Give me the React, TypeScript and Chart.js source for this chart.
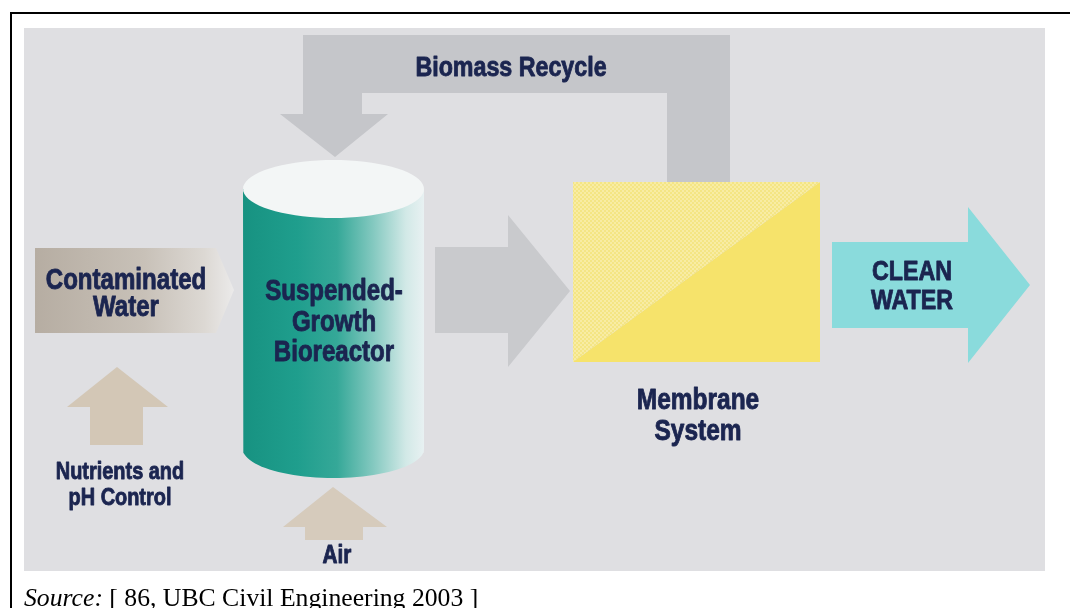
import { useEffect, useRef } from "react";
import { Chart, registerables } from "chart.js";

Chart.register(...registerables);

type P = { x: number; y: number };

// Diagram space is the 1070 x 608 picture, y growing downward.
const backdrop: P[] = [
  { x: 24, y: 28 }, { x: 1045, y: 28 }, { x: 1045, y: 571 }, { x: 24, y: 571 },
];
const recycleArrow: P[] = [
  { x: 303, y: 35 }, { x: 730, y: 35 }, { x: 730, y: 184 }, { x: 667, y: 184 },
  { x: 667, y: 93 }, { x: 362, y: 93 }, { x: 362, y: 114 }, { x: 388, y: 114 },
  { x: 335, y: 157 }, { x: 280, y: 114 }, { x: 303, y: 114 },
];
const feedArrow: P[] = [
  { x: 435, y: 247 }, { x: 508, y: 247 }, { x: 508, y: 215 }, { x: 570, y: 291 },
  { x: 508, y: 367 }, { x: 508, y: 333 }, { x: 435, y: 333 },
];
const contaminatedArrow: P[] = [
  { x: 35, y: 248 }, { x: 216, y: 248 }, { x: 234, y: 290 }, { x: 216, y: 333 }, { x: 35, y: 333 },
];
const nutrientsArrow: P[] = [
  { x: 117, y: 367 }, { x: 168, y: 407 }, { x: 143, y: 407 }, { x: 143, y: 445 },
  { x: 90, y: 445 }, { x: 90, y: 407 }, { x: 67, y: 407 },
];
const airArrow: P[] = [
  { x: 333, y: 487 }, { x: 387, y: 527 }, { x: 363, y: 527 }, { x: 363, y: 540 },
  { x: 305, y: 540 }, { x: 305, y: 527 }, { x: 283, y: 527 },
];
const membraneUpper: P[] = [
  { x: 573, y: 182 }, { x: 820, y: 182 }, { x: 573, y: 362 },
];
const membraneLower: P[] = [
  { x: 820, y: 182 }, { x: 820, y: 362 }, { x: 573, y: 362 },
];
const cleanArrow: P[] = [
  { x: 832, y: 242 }, { x: 968, y: 242 }, { x: 968, y: 207 }, { x: 1030, y: 285 },
  { x: 968, y: 363 }, { x: 968, y: 328 }, { x: 832, y: 328 },
];

// Cylinder (bioreactor): centre x, half width, top / bottom ellipse centres, ellipse half height
const cylCx = 333.5;
const cylRx = 90.5;
const cylTop = 189;
const cylBottom = 449;
const cylRy = 29;

function arc(cx: number, cy: number, rx: number, ry: number, a0: number, a1: number, n: number): P[] {
  const out: P[] = [];
  for (let i = 0; i <= n; i++) {
    const t = a0 + ((a1 - a0) * i) / n;
    out.push({ x: cx + rx * Math.cos(t), y: cy + ry * Math.sin(t) });
  }
  return out;
}
const cylinderBody: P[] = [
  { x: cylCx - cylRx, y: cylTop },
  ...arc(cylCx, cylBottom, cylRx, cylRy, Math.PI, 0, 48),
  { x: cylCx + cylRx, y: cylTop },
];
const cylinderLid: P[] = arc(cylCx, cylTop, cylRx, cylRy, 0, Math.PI * 2, 72);

type Label = { lines: string[]; x: number; y: number; gap: number; size: number };
const labels: Label[] = [
  { lines: ["Biomass Recycle"], x: 511, y: 66, gap: 0, size: 28 },
  { lines: ["Contaminated", "Water"], x: 126, y: 279, gap: 27, size: 29 },
  { lines: ["Suspended-", "Growth", "Bioreactor"], x: 334, y: 290, gap: 30.5, size: 29 },
  { lines: ["Membrane", "System"], x: 698, y: 398, gap: 31, size: 29.5 },
  { lines: ["CLEAN", "WATER"], x: 912, y: 270, gap: 29, size: 28 },
  { lines: ["Nutrients and", "pH Control"], x: 120, y: 470, gap: 26.5, size: 24 },
  { lines: ["Air"], x: 337, y: 554, gap: 0, size: 25 },
];

const textPlugin = {
  id: "diagramText",
  afterDatasetsDraw(chart: any) {
    const { ctx, scales } = chart;
    const xs = scales.x;
    const ys = scales.y;
    for (const lab of labels) {
      lab.lines.forEach((line, k) => {
        const px = xs.getPixelForValue(lab.x);
        const py = ys.getPixelForValue(lab.y + k * lab.gap);
        ctx.save();
        ctx.translate(px, py + lab.size * 0.358);
        ctx.scale(0.83, 1);
        ctx.font = `bold ${lab.size}px 'Liberation Sans', Arial, sans-serif`;
        ctx.fillStyle = "#1b2550";
        ctx.strokeStyle = "#1b2550";
        ctx.lineWidth = 0.9;
        ctx.lineJoin = "round";
        ctx.textAlign = "center";
        ctx.textBaseline = "alphabetic";
        ctx.fillText(line, 0, 0);
        ctx.strokeText(line, 0, 0);
        ctx.restore();
      });
    }
  },
};

export default function App() {
  const ref = useRef<HTMLCanvasElement | null>(null);

  useEffect(() => {
    const canvas = ref.current;
    if (!canvas) return;

    const pc = document.createElement("canvas");
    pc.width = 4;
    pc.height = 4;
    const pctx = pc.getContext("2d")!;
    pctx.fillStyle = "#f4e584";
    pctx.fillRect(0, 0, 4, 4);
    pctx.fillStyle = "#f8eca4";
    pctx.fillRect(0, 0, 2, 2);
    pctx.fillRect(2, 2, 2, 2);
    const dots = canvas.getContext("2d")!.createPattern(pc, "repeat");

    const hGrad = (x0: number, x1: number, stops: [number, string][]) => (c: any) => {
      const chart = c.chart;
      const sx = chart.scales?.x;
      if (!sx) return stops[1][1];
      const p0 = sx.getPixelForValue(x0);
      const p1 = sx.getPixelForValue(x1);
      if (!isFinite(p0) || !isFinite(p1)) return stops[1][1];
      const g = chart.ctx.createLinearGradient(p0, 0, p1, 0);
      stops.forEach(([o, col]) => g.addColorStop(o, col));
      return g;
    };

    const shapes: { data: P[]; color: any }[] = [
      { data: backdrop, color: "#dfdfe2" },
      { data: recycleArrow, color: "#c5c6ca" },
      { data: feedArrow, color: "#c9cacd" },
      {
        data: contaminatedArrow,
        color: hGrad(35, 234, [
          [0, "#b6ada2"],
          [0.55, "#c8c1b8"],
          [0.85, "#dcd8d3"],
          [1, "#ebeaea"],
        ]),
      },
      { data: nutrientsArrow, color: "#d3c7b6" },
      { data: airArrow, color: "#d6cbbc" },
      {
        data: cylinderBody,
        color: hGrad(cylCx - cylRx, cylCx + cylRx, [
          [0, "#179281"],
          [0.3, "#1f9e8d"],
          [0.52, "#35a898"],
          [0.72, "#84c9c0"],
          [0.9, "#d2e9e7"],
          [1, "#e8f1f2"],
        ]),
      },
      { data: cylinderLid, color: "#f3f6f6" },
      { data: membraneLower, color: "#f6e36b" },
      { data: membraneUpper, color: dots || "#f5e78a" },
      { data: cleanArrow, color: "#8adbdc" },
    ];

    const datasets = shapes.map((s, i) => ({
      data: s.data,
      backgroundColor: s.color,
      borderColor: "rgba(0,0,0,0)",
      borderWidth: 0,
      pointRadius: 0,
      pointHoverRadius: 0,
      fill: "shape",
      tension: 0,
      order: shapes.length - i,
    }));

    const chart = new Chart(canvas, {
      type: "line",
      data: { datasets: datasets as any },
      options: {
        animation: false,
        responsive: false,
        maintainAspectRatio: false,
        devicePixelRatio: 1,
        events: [],
        layout: { padding: 0 },
        plugins: { legend: { display: false }, tooltip: { enabled: false } },
        scales: {
          x: { type: "linear", min: 0, max: 1070, display: false },
          y: { type: "linear", min: 0, max: 608, reverse: true, display: false },
        },
      },
      plugins: [textPlugin],
    });
    return () => chart.destroy();
  }, []);

  return (
    <div style={{ position: "absolute", left: 0, top: 0, width: 1070, height: 608, overflow: "hidden", background: "#fff" }}>
      <canvas ref={ref} width={1070} height={608} style={{ position: "absolute", left: 0, top: 0, width: 1070, height: 608 }} />
      <div
        style={{
          position: "absolute",
          left: 10,
          top: 12,
          width: 1200,
          height: 800,
          borderTop: "2px solid #000",
          borderLeft: "2px solid #000",
          boxSizing: "border-box",
        }}
      />
      <div
        style={{
          position: "absolute",
          left: 24,
          top: 585,
          fontFamily: "'Liberation Serif', 'Times New Roman', serif",
          fontSize: 25.7,
          lineHeight: "25.7px",
          whiteSpace: "nowrap",
          color: "#000",
        }}
      >
        <i>Source:</i> [ 86, UBC Civil Engineering 2003 ]
      </div>
    </div>
  );
}
